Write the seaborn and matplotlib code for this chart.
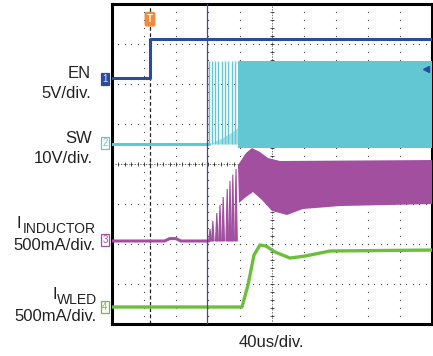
import numpy as np
import matplotlib.pyplot as plt
import seaborn as sns

sns.set_style("white")
plt.rcParams['font.family'] = ['Liberation Sans', 'DejaVu Sans']

# time in us from the left edge of the screen (40 us/div, 10 div)
t_trigger = 47.5
t_cursor = 118.75

# channel 1: EN (V), 5 V/div
en_t = [0, 48, 48, 400]
en_v = [0.0, 0.0, 4.9, 4.9]

# channel 2: SW (V), 10 V/div
sw_low_t = [0, 121]
sw_low_v = [0.0, 0.0]
sw_pulse_t = [121, 125, 129, 133, 137, 141, 145, 150, 154]
sw_pulse_peak = [20.7, 20.7, 20.7, 20.7, 20.7, 20.7, 20.7, 20.7, 20.7]
sw_ped_t = [121, 130, 140, 150, 157.5]
sw_ped_v = [0.0, 0.8, 1.8, 3.0, 4.2]
sw_band_t = [157.5, 400]
sw_band_top = [20.7, 20.7]
sw_band_bot = [-1.0, -1.0]

# channel 3: I_INDUCTOR (mA), 500 mA/div
ind_low_t = [0, 66, 72, 80, 86, 121]
ind_low_v = [0, 0, 30, 30, 0, 0]
ind_pulse_t = [122.5, 126, 131, 135, 139, 144, 147.5, 151, 155]
ind_pulse_peak = [150, 250, 350, 450, 550, 650, 750, 830, 900]
ind_top_t = [157.5, 167.5, 175, 185, 195, 210, 400]
ind_top_v = [950, 1100, 1162, 1112, 1037, 1000, 1012]
ind_bot_t = [158.75, 167.5, 176.25, 187.5, 200, 218.75, 238.75, 285, 400]
ind_bot_v = [475, 550, 612, 512, 375, 325, 400, 437, 462]

# channel 4: I_WLED (mA), 500 mA/div
wled_t = [0, 162.5, 170, 177.5, 185, 192.5, 203.75, 222.5, 241.25, 272.5, 400]
wled_v = [0, 0, 275, 650, 775, 762, 687, 612, 637, 700, 712]

# screen offsets (div) and scales (unit/div)
off = {'en': 2.15, 'sw': 0.5, 'ind': -1.925, 'wled': -3.575}
scale = {'en': 5.0, 'sw': 10.0, 'ind': 500.0, 'wled': 500.0}

c_en = '#2b4c9c'
c_sw = '#62c7d2'
c_ind = '#a24fa0'
c_wled = '#6cbf3c'
c_txt = '#222222'


def div(ch, v):
    return off[ch] + np.asarray(v, dtype=float) / scale[ch]


W, H = 433, 356
fig = plt.figure(figsize=(W / 100, H / 100), dpi=100)
ax = fig.add_axes([112 / W, 32 / H, 320 / W, 320 / H])
ax.set_xlim(0, 400)
ax.set_ylim(-4, 4)
ax.set_xticks([])
ax.set_yticks([])
for s in ax.spines.values():
    s.set_linewidth(2.2)
    s.set_color('black')

# graticule: dotted, a dot every 1/5 division
gx = np.arange(0, 400.1, 8)
gy = np.arange(-4, 4.01, 0.2)
for yy in range(-3, 4):
    ax.plot(gx, np.full_like(gx, yy), ls='none', marker='s', ms=0.8, mew=0,
            color='#444444', zorder=1)
for xx in range(40, 400, 40):
    ax.plot(np.full_like(gy, xx), gy, ls='none', marker='s', ms=0.8, mew=0,
            color='#444444', zorder=1)
ax.plot(gx, np.zeros_like(gx), ls='none', marker='|', ms=3.5, mew=0.6, color='#333333', zorder=1)
ax.plot(np.full_like(gy, 200), gy, ls='none', marker='_', ms=3.5, mew=0.6, color='#333333', zorder=1)
ax.axvline(200, color='#333333', lw=0.5, ls=(0, (2, 2)), zorder=1)
ax.axhline(0, color='#333333', lw=0.5, ls=(0, (2, 2)), zorder=1)

# trigger and cursor lines
ax.axvline(t_trigger, color='#222222', lw=0.9, ls=(0, (3, 2)), zorder=1)
ax.axvline(t_cursor, color='#4a4a8a', lw=0.9, zorder=6)

# channel 2: SW
sns.lineplot(x=sw_low_t, y=div('sw', sw_low_v), ax=ax, color=c_sw, lw=2.2,
             estimator=None, sort=False, zorder=3)
ax.fill_between(sw_ped_t, div('sw', 0), div('sw', sw_ped_v), color=c_sw, alpha=0.55, lw=0, zorder=3)
ax.vlines(sw_pulse_t, div('sw', 0), div('sw', sw_pulse_peak), color=c_sw, lw=1.0, zorder=3)
ax.fill_between(sw_band_t, div('sw', sw_band_bot), div('sw', sw_band_top), color=c_sw, lw=0, zorder=3)

# channel 1: EN
sns.lineplot(x=en_t, y=div('en', en_v), ax=ax, color=c_en, lw=2.2,
             estimator=None, sort=False, zorder=4)

# channel 3: I_INDUCTOR
sns.lineplot(x=ind_low_t, y=div('ind', ind_low_v), ax=ax, color=c_ind, lw=2.2,
             estimator=None, sort=False, zorder=4)
for tp, pk in zip(ind_pulse_t, ind_pulse_peak):
    ax.fill([tp - 1.6, tp, tp + 1.6], div('ind', [0, pk, 0]), color=c_ind, lw=0.8, zorder=4)
band_t = np.r_[ind_top_t, ind_bot_t[::-1]]
band_v = np.r_[ind_top_v, ind_bot_v[::-1]]
ax.fill(band_t, div('ind', band_v), color=c_ind, lw=0, zorder=4)

# channel 4: I_WLED
sns.lineplot(x=wled_t, y=div('wled', wled_v), ax=ax, color=c_wled, lw=2.4,
             estimator=None, sort=False, zorder=5)

# trigger level marker on the right
ax.plot([393], [(164 - 69) / 40], marker='<', ms=5, color=c_en, zorder=7, clip_on=False)

# trigger "T" marker
ax.text(t_trigger, 3.62, 'T', ha='center', va='center', fontsize=7, color='white',
        fontweight='bold', zorder=8,
        bbox=dict(boxstyle='round,pad=0.18', fc='#f08a3c', ec='#f08a3c'))


def fx(x, y):
    return x / W, 1 - y / H


# channel markers on the left
markers = [('1', 79, c_en, True), ('2', 143, c_sw, False),
           ('3', 240, c_ind, False), ('4', 307, c_wled, False)]
for lab, ypx, col, filled in markers:
    fig.text(*fx(105, ypx), lab, ha='center', va='center', fontsize=7,
             color='#dde4f5' if filled else col,
             bbox=dict(boxstyle='square,pad=0.12', fc=col if filled else 'white', ec=col, lw=0.9))

fs = 12
fig.text(*fx(91, 78), 'EN', ha='right', va='baseline', fontsize=fs, color=c_txt)
fig.text(*fx(91, 98), '5V/div.', ha='right', va='baseline', fontsize=fs, color=c_txt)
fig.text(*fx(92, 143), 'SW', ha='right', va='baseline', fontsize=fs, color=c_txt)
fig.text(*fx(93, 163), '10V/div.', ha='right', va='baseline', fontsize=fs, color=c_txt)

fig.text(*fx(17, 228), 'I', ha='left', va='baseline', fontsize=fs, color=c_txt)
fig.text(*fx(96, 233), 'INDUCTOR', ha='right', va='baseline', fontsize=10, color=c_txt)
fig.text(*fx(96, 250), '500mA/div.', ha='right', va='baseline', fontsize=fs, color=c_txt)

fig.text(*fx(53, 299), 'I', ha='left', va='baseline', fontsize=fs, color=c_txt)
fig.text(*fx(97, 304), 'WLED', ha='right', va='baseline', fontsize=10, color=c_txt)
fig.text(*fx(97, 321), '500mA/div.', ha='right', va='baseline', fontsize=fs, color=c_txt)

fig.text(*fx(271, 347), '40us/div.', ha='center', va='baseline', fontsize=fs, color=c_txt)

fig.savefig('out.png', dpi=100, facecolor='white')
